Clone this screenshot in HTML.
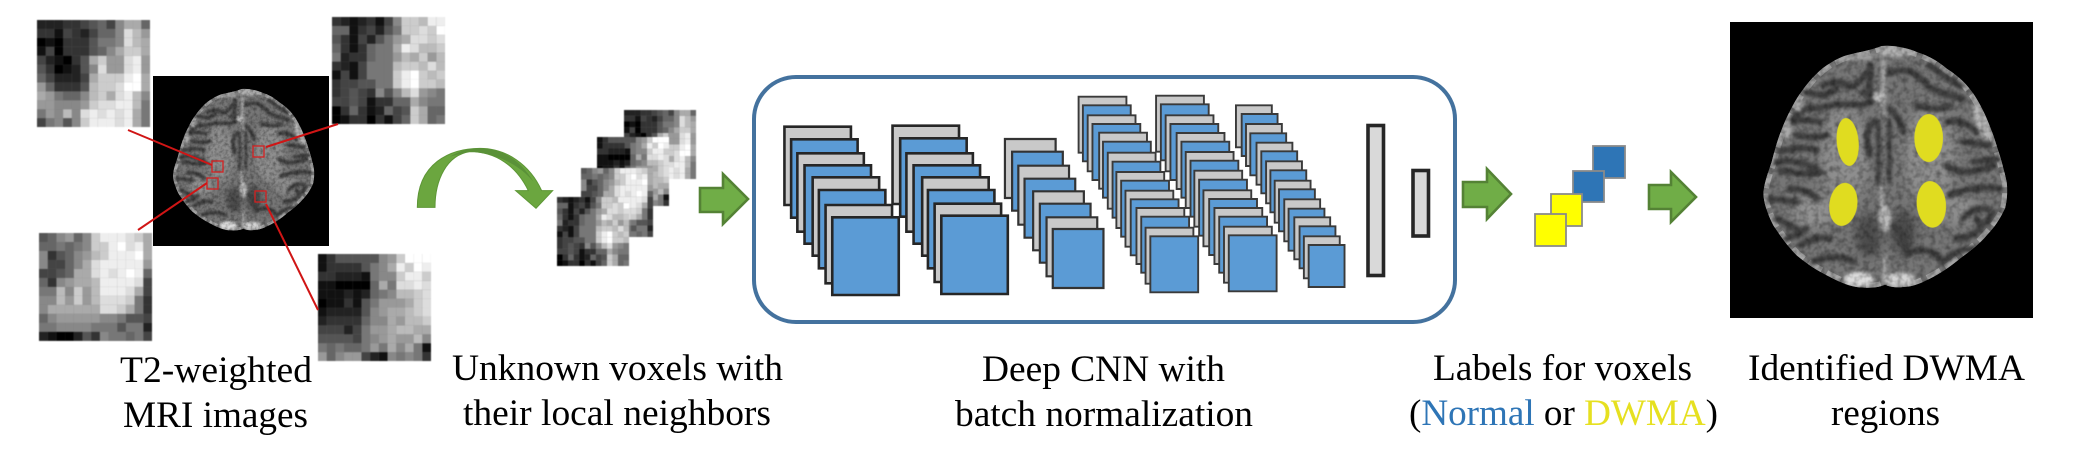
<!DOCTYPE html>
<html><head><meta charset="utf-8"><style>
html,body{margin:0;padding:0;background:#fff}
#w{position:relative;width:2100px;height:450px;overflow:hidden;background:#fff}
#w svg{position:absolute;left:0;top:0}
#pw{position:absolute;left:0;top:0;width:2100px;height:450px;filter:blur(.45px)}
.u{position:absolute;background:#777}
.c rect{vector-effect:non-scaling-stroke}
.p{position:absolute;left:0;top:0;width:1px;height:1px;transform-origin:0 0}
.A{box-shadow:1px 1px #222,2px 1px #222,3px 1px #222,4px 1px #333,5px 1px #333,6px 1px #444,7px 1px #555,8px 1px #666,9px 1px #444,10px 1px #888,11px 1px #aaa,12px 1px #aaa,13px 1px #666,
1px 2px #333,2px 2px #333,3px 2px #111,4px 2px #444,5px 2px #333,6px 2px #222,7px 2px #444,8px 2px #666,9px 2px #666,10px 2px #888,11px 2px #ddd,12px 2px #bbb,13px 2px #999,
1px 3px #000,2px 3px #111,3px 3px #000,4px 3px #333,5px 3px #333,6px 3px #333,7px 3px #555,8px 3px #777,9px 3px #777,10px 3px #888,11px 3px #ddd,12px 3px #bbb,13px 3px #aaa,
1px 4px #111,2px 4px #444,3px 4px #000,4px 4px #333,5px 4px #333,6px 4px #333,7px 4px #555,8px 4px #666,9px 4px #888,10px 4px #aaa,11px 4px #ccc,12px 4px #ccc,13px 4px #aaa,
1px 5px #444,2px 5px #222,3px 5px #111,4px 5px #000,5px 5px #333,6px 5px #555,7px 5px #aaa,8px 5px #ccc,9px 5px #999,10px 5px #999,11px 5px #ddd,12px 5px #eee,13px 5px #999,
1px 6px #555,2px 6px #333,3px 6px #000,4px 6px #111,5px 6px #222,6px 6px #555,7px 6px #888,8px 6px #ddd,9px 6px #999,10px 6px #999,11px 6px #ddd,12px 6px #eee,13px 6px #999,
1px 7px #666,2px 7px #444,3px 7px #222,4px 7px #222,5px 7px #222,6px 7px #444,7px 7px #aaa,8px 7px #ccc,9px 7px #ccc,10px 7px #ccc,11px 7px #eee,12px 7px #fff,13px 7px #aaa,
1px 8px #999,2px 8px #666,3px 8px #333,4px 8px #333,5px 8px #333,6px 8px #555,7px 8px #bbb,8px 8px #ccc,9px 8px #ccc,10px 8px #ddd,11px 8px #fff,12px 8px #fff,13px 8px #aaa,
1px 9px #aaa,2px 9px #999,3px 9px #777,4px 9px #666,5px 9px #666,6px 9px #888,7px 9px #bbb,8px 9px #ccc,9px 9px #aaa,10px 9px #ddd,11px 9px #eee,12px 9px #bbb,13px 9px #888,
1px 10px #999,2px 10px #999,3px 10px #888,4px 10px #888,5px 10px #888,6px 10px #999,7px 10px #ccc,8px 10px #ddd,9px 10px #ddd,10px 10px #eee,11px 10px #eee,12px 10px #bbb,13px 10px #777,
1px 11px #777,2px 11px #999,3px 11px #888,4px 11px #bbb,5px 11px #888,6px 11px #ddd,7px 11px #eee,8px 11px #ddd,9px 11px #eee,10px 11px #ddd,11px 11px #eee,12px 11px #aaa,13px 11px #777,
1px 12px #444,2px 12px #777,3px 12px #888,4px 12px #555,5px 12px #888,6px 12px #ccc,7px 12px #eee,8px 12px #eee,9px 12px #eee,10px 12px #ddd,11px 12px #eee,12px 12px #aaa,13px 12px #777}
.B{box-shadow:1px 1px #333,2px 1px #222,3px 1px #111,4px 1px #222,5px 1px #333,6px 1px #111,7px 1px #444,8px 1px #888,9px 1px #ccc,10px 1px #ccc,11px 1px #bbb,12px 1px #eee,13px 1px #eee,
1px 2px #666,2px 2px #666,3px 2px #111,4px 2px #333,5px 2px #444,6px 2px #222,7px 2px #555,8px 2px #777,9px 2px #ccc,10px 2px #ccc,11px 2px #ddd,12px 2px #ccc,13px 2px #fff,
1px 3px #555,2px 3px #333,3px 3px #111,4px 3px #444,5px 3px #222,6px 3px #555,7px 3px #777,8px 3px #999,9px 3px #aaa,10px 3px #ddd,11px 3px #ddd,12px 3px #ccc,13px 3px #ddd,
1px 4px #666,2px 4px #333,3px 4px #111,4px 4px #333,5px 4px #666,6px 4px #777,7px 4px #777,8px 4px #aaa,9px 4px #eee,10px 4px #ddd,11px 4px #bbb,12px 4px #bbb,13px 4px #ccc,
1px 5px #777,2px 5px #222,3px 5px #333,4px 5px #333,5px 5px #666,6px 5px #777,7px 5px #777,8px 5px #999,9px 5px #bbb,10px 5px #aaa,11px 5px #ccc,12px 5px #999,13px 5px #bbb,
1px 6px #333,2px 6px #222,3px 6px #111,4px 6px #444,5px 6px #777,6px 6px #777,7px 6px #777,8px 6px #bbb,9px 6px #ccc,10px 6px #ccc,11px 6px #bbb,12px 6px #ddd,13px 6px #bbb,
1px 7px #111,2px 7px #444,3px 7px #111,4px 7px #444,5px 7px #777,6px 7px #777,7px 7px #777,8px 7px #ccc,9px 7px #eee,10px 7px #fff,11px 7px #ccc,12px 7px #bbb,13px 7px #ccc,
1px 8px #333,2px 8px #444,3px 8px #444,4px 8px #555,5px 8px #555,6px 8px #777,7px 8px #777,8px 8px #ccc,9px 8px #eee,10px 8px #fff,11px 8px #ccc,12px 8px #ccc,13px 8px #bbb,
1px 9px #333,2px 9px #444,3px 9px #555,4px 9px #444,5px 9px #333,6px 9px #888,7px 9px #555,8px 9px #888,9px 9px #bbb,10px 9px #ddd,11px 9px #999,12px 9px #888,13px 9px #777,
1px 10px #444,2px 10px #444,3px 10px #555,4px 10px #444,5px 10px #111,6px 10px #333,7px 10px #333,8px 10px #666,9px 10px #666,10px 10px #aaa,11px 10px #888,12px 10px #777,13px 10px #777,
1px 11px #000,2px 11px #333,3px 11px #666,4px 11px #333,5px 11px #111,6px 11px #222,7px 11px #666,8px 11px #444,9px 11px #555,10px 11px #ccc,11px 11px #aaa,12px 11px #666,13px 11px #666,
1px 12px #000,2px 12px #111,3px 12px #333,4px 12px #333,5px 12px #000,6px 12px #333,7px 12px #111,8px 12px #444,9px 12px #666,10px 12px #ccc,11px 12px #aaa,12px 12px #666,13px 12px #777}
.C{box-shadow:1px 1px #555,2px 1px #666,3px 1px #888,4px 1px #999,5px 1px #666,6px 1px #888,7px 1px #ccc,8px 1px #eee,9px 1px #eee,10px 1px #eee,11px 1px #ddd,12px 1px #ccc,13px 1px #aaa,
1px 2px #666,2px 2px #666,3px 2px #777,4px 2px #666,5px 2px #777,6px 2px #888,7px 2px #ccc,8px 2px #ccc,9px 2px #eee,10px 2px #fff,11px 2px #ddd,12px 2px #eee,13px 2px #aaa,
1px 3px #888,2px 3px #333,3px 3px #555,4px 3px #666,5px 3px #888,6px 3px #999,7px 3px #bbb,8px 3px #ccc,9px 3px #eee,10px 3px #eee,11px 3px #eee,12px 3px #fff,13px 3px #aaa,
1px 4px #888,2px 4px #444,3px 4px #444,4px 4px #666,5px 4px #888,6px 4px #aaa,7px 4px #ddd,8px 4px #eee,9px 4px #eee,10px 4px #eee,11px 4px #eee,12px 4px #eee,13px 4px #999,
1px 5px #444,2px 5px #444,3px 5px #555,4px 5px #666,5px 5px #aaa,6px 5px #aaa,7px 5px #ddd,8px 5px #eee,9px 5px #ddd,10px 5px #eee,11px 5px #fff,12px 5px #eee,13px 5px #666,
1px 6px #666,2px 6px #333,3px 6px #888,4px 6px #999,5px 6px #aaa,6px 6px #aaa,7px 6px #bbb,8px 6px #eee,9px 6px #eee,10px 6px #eee,11px 6px #eee,12px 6px #ddd,13px 6px #444,
1px 7px #777,2px 7px #777,3px 7px #bbb,4px 7px #888,5px 7px #ccc,6px 7px #999,7px 7px #bbb,8px 7px #eee,9px 7px #eee,10px 7px #eee,11px 7px #ddd,12px 7px #aaa,13px 7px #444,
1px 8px #888,2px 8px #888,3px 8px #bbb,4px 8px #999,5px 8px #ccc,6px 8px #999,7px 8px #bbb,8px 8px #ddd,9px 8px #ddd,10px 8px #ddd,11px 8px #ccc,12px 8px #777,13px 8px #333,
1px 9px #888,2px 9px #aaa,3px 9px #aaa,4px 9px #aaa,5px 9px #aaa,6px 9px #aaa,7px 9px #aaa,8px 9px #ddd,9px 9px #ddd,10px 9px #ccc,11px 9px #aaa,12px 9px #777,13px 9px #333,
1px 10px #666,2px 10px #888,3px 10px #999,4px 10px #999,5px 10px #999,6px 10px #999,7px 10px #999,8px 10px #888,9px 10px #888,10px 10px #777,11px 10px #555,12px 10px #555,13px 10px #444,
1px 11px #777,2px 11px #777,3px 11px #888,4px 11px #888,5px 11px #888,6px 11px #888,7px 11px #777,8px 11px #777,9px 11px #777,10px 11px #555,11px 11px #777,12px 11px #777,13px 11px #222,
1px 12px #222,2px 12px #111,3px 12px #000,4px 12px #000,5px 12px #222,6px 12px #555,7px 12px #333,8px 12px #888,9px 12px #777,10px 12px #777,11px 12px #666,12px 12px #777,13px 12px #444}
.D{box-shadow:1px 1px #111,2px 1px #333,3px 1px #555,4px 1px #555,5px 1px #555,6px 1px #555,7px 1px #555,8px 1px #888,9px 1px #999,10px 1px #ccc,11px 1px #fff,12px 1px #fff,13px 1px #fff,
1px 2px #111,2px 2px #333,3px 2px #333,4px 2px #333,5px 2px #333,6px 2px #555,7px 2px #777,8px 2px #888,9px 2px #aaa,10px 2px #eee,11px 2px #ccc,12px 2px #fff,13px 2px #eee,
1px 3px #333,2px 3px #333,3px 3px #222,4px 3px #222,5px 3px #222,6px 3px #111,7px 3px #777,8px 3px #888,9px 3px #888,10px 3px #ccc,11px 3px #eee,12px 3px #eee,13px 3px #ccc,
1px 4px #111,2px 4px #111,3px 4px #000,4px 4px #000,5px 4px #000,6px 4px #000,7px 4px #666,8px 4px #aaa,9px 4px #777,10px 4px #ddd,11px 4px #ddd,12px 4px #eee,13px 4px #ddd,
1px 5px #111,2px 5px #111,3px 5px #111,4px 5px #222,5px 5px #111,6px 5px #222,7px 5px #666,8px 5px #777,9px 5px #888,10px 5px #bbb,11px 5px #bbb,12px 5px #ccc,13px 5px #ddd,
1px 6px #000,2px 6px #111,3px 6px #111,4px 6px #333,5px 6px #111,6px 6px #555,7px 6px #777,8px 6px #999,9px 6px #999,10px 6px #999,11px 6px #aaa,12px 6px #ccc,13px 6px #ddd,
1px 7px #111,2px 7px #222,3px 7px #222,4px 7px #222,5px 7px #222,6px 7px #555,7px 7px #888,8px 7px #999,9px 7px #aaa,10px 7px #aaa,11px 7px #bbb,12px 7px #ccc,13px 7px #ddd,
1px 8px #222,2px 8px #333,3px 8px #333,4px 8px #333,5px 8px #333,6px 8px #666,7px 8px #888,8px 8px #888,9px 8px #aaa,10px 8px #999,11px 8px #bbb,12px 8px #bbb,13px 8px #ccc,
1px 9px #444,2px 9px #444,3px 9px #444,4px 9px #222,5px 9px #444,6px 9px #777,7px 9px #999,8px 9px #999,9px 9px #aaa,10px 9px #bbb,11px 9px #bbb,12px 9px #aaa,13px 9px #aaa,
1px 10px #555,2px 10px #555,3px 10px #555,4px 10px #555,5px 10px #444,6px 10px #777,7px 10px #888,8px 10px #999,9px 10px #aaa,10px 10px #999,11px 10px #999,12px 10px #bbb,13px 10px #888,
1px 11px #777,2px 11px #666,3px 11px #777,4px 11px #666,5px 11px #666,6px 11px #777,7px 11px #999,8px 11px #777,9px 11px #aaa,10px 11px #888,11px 11px #aaa,12px 11px #777,13px 11px #111,
1px 12px #999,2px 12px #666,3px 12px #888,4px 12px #999,5px 12px #999,6px 12px #444,7px 12px #222,8px 12px #111,9px 12px #888,10px 12px #777,11px 12px #888,12px 12px #777,13px 12px #333}
</style></head><body><div id="w">
<div id="pw">
<div class="u" style="left:37px;top:20px;width:113px;height:107px"></div><div class="p A" style="transform:translate(37px,20px) scale(8.69,8.92) translate(-1px,-1px)"></div>
<div class="u" style="left:332px;top:17px;width:113px;height:107px"></div><div class="p B" style="transform:translate(332px,17px) scale(8.69,8.92) translate(-1px,-1px)"></div>
<div class="u" style="left:39px;top:233px;width:113px;height:108px"></div><div class="p C" style="transform:translate(39px,233px) scale(8.69,8.98) translate(-1px,-1px)"></div>
<div class="u" style="left:318px;top:254px;width:113px;height:107px"></div><div class="p D" style="transform:translate(318px,254px) scale(8.69,8.92) translate(-1px,-1px)"></div>
<div class="u" style="left:624px;top:110px;width:72px;height:69px"></div><div class="p A" style="transform:translate(624px,110px) scale(5.54,5.75) translate(-1px,-1px)"></div>
<div class="u" style="left:597px;top:137px;width:72px;height:69px"></div><div class="p D" style="transform:translate(597px,137px) scale(5.54,5.75) translate(-1px,-1px)"></div>
<div class="u" style="left:581px;top:168px;width:72px;height:69px"></div><div class="p C" style="transform:translate(581px,168px) scale(5.54,5.75) translate(-1px,-1px)"></div>
<div class="u" style="left:557px;top:197px;width:72px;height:69px"></div><div class="p B" style="transform:translate(557px,197px) scale(5.54,5.75) translate(-1px,-1px)"></div>
</div>
<svg width="2100" height="450" viewBox="0 0 2100 450" xmlns="http://www.w3.org/2000/svg">
<defs>
<filter id="bl" x="-10%" y="-10%" width="120%" height="120%"><feGaussianBlur stdDeviation="5"/></filter>
<filter id="bl2" x="-20%" y="-20%" width="140%" height="140%"><feGaussianBlur stdDeviation="14"/></filter>
<filter id="nz" x="0" y="0" width="100%" height="100%" color-interpolation-filters="sRGB"><feTurbulence type="fractalNoise" baseFrequency=".06" numOctaves="2" seed="4"/><feColorMatrix values="0 0 0 0 0  0 0 0 0 0  0 0 0 0 0  .7 0 0 0 -.27"/></filter>
<clipPath id="bc"><path id="bo" d="M455 72C490 68 530 78 560 90C600 102 630 122 650 140C690 165 712 190 730 215C760 260 775 300 790 340C810 400 822 440 830 480C834 510 830 540 825 560C805 600 790 620 770 640C745 670 715 690 690 710C660 735 630 755 600 770C570 785 545 795 520 795C500 797 480 796 465 788C450 796 420 800 380 795C350 790 325 778 300 765C260 745 230 725 200 700C170 670 150 640 130 610C112 575 100 540 100 510C105 475 115 450 125 420C135 380 145 345 160 310C175 275 190 245 210 215C235 180 260 150 290 130C320 110 345 100 370 95C400 88 430 82 455 72Z"/></clipPath>
<g id="brain">
<path d="M455 72C490 68 530 78 560 90C600 102 630 122 650 140C690 165 712 190 730 215C760 260 775 300 790 340C810 400 822 440 830 480C834 510 830 540 825 560C805 600 790 620 770 640C745 670 715 690 690 710C660 735 630 755 600 770C570 785 545 795 520 795C500 797 480 796 465 788C450 796 420 800 380 795C350 790 325 778 300 765C260 745 230 725 200 700C170 670 150 640 130 610C112 575 100 540 100 510C105 475 115 450 125 420C135 380 145 345 160 310C175 275 190 245 210 215C235 180 260 150 290 130C320 110 345 100 370 95C400 88 430 82 455 72Z" fill="#767676"/>
<g clip-path="url(#bc)">
<g filter="url(#bl2)"><ellipse cx="345" cy="400" rx="70" ry="150" fill="#8e8e8e"/><ellipse cx="600" cy="400" rx="75" ry="150" fill="#8e8e8e"/><ellipse cx="250" cy="570" rx="60" ry="50" fill="#929292"/><ellipse cx="680" cy="560" rx="60" ry="50" fill="#8c8c8c"/><ellipse cx="415" cy="640" rx="38" ry="65" fill="#4c4c4c"/><ellipse cx="520" cy="630" rx="38" ry="65" fill="#4c4c4c"/></g>
<use href="#bo" fill="none" stroke="#a6a6a6" stroke-width="30" stroke-dasharray="46 18"/>
<g filter="url(#bl)" fill="none" stroke="#404040" stroke-width="20" stroke-linecap="round">
<path d="M280 190Q330 170 350 190T420 140"/><path d="M400 210Q450 240 390 250Q330 240 260 260Q220 250 190 290"/><path d="M170 300Q230 290 270 300"/><path d="M150 390Q210 370 260 385"/><path d="M140 420Q220 410 270 450Q220 460 150 445"/><path d="M120 530L200 540"/><path d="M140 590L200 620"/><path d="M210 670Q260 640 300 650"/><path d="M250 720Q320 690 370 720"/>
<path d="M480 150Q550 130 590 190Q640 220 700 230"/><path d="M480 260Q510 290 520 330"/><path d="M650 300Q700 290 740 330"/><path d="M700 360L780 370"/><path d="M650 430Q700 470 790 430"/><path d="M660 520Q730 490 810 500"/><path d="M740 590Q760 630 790 570"/><path d="M540 690Q600 670 640 720Q680 680 730 680"/><path d="M490 610Q530 640 530 700"/><path d="M420 130L420 210"/>
<path d="M445 300L445 480M478 300L478 480" stroke-width="14"/>
<path d="M230 210Q280 230 320 200M600 130Q650 170 690 190M560 250Q620 270 660 250M200 340Q250 350 290 340M730 420L800 410M180 500Q230 500 260 530M700 590Q720 560 770 560M170 650Q200 640 230 620M680 650Q720 650 750 620M430 300Q400 330 420 400"/>
</g>
<g filter="url(#bl)">
<path d="M460 80L460 280M455 490L455 590M465 700L462 790" stroke="#a8a8a8" stroke-width="12" fill="none"/>
<ellipse cx="448" cy="225" rx="20" ry="15" fill="#bdbdbd"/><ellipse cx="465" cy="590" rx="18" ry="40" fill="#bbb"/>
<ellipse cx="385" cy="772" rx="45" ry="22" fill="#dcdcdc"/><ellipse cx="510" cy="772" rx="45" ry="20" fill="#d4d4d4"/>
<ellipse cx="500" cy="90" rx="55" ry="14" fill="#b4b4b4"/><ellipse cx="380" cy="105" rx="70" ry="9" fill="#a0a0a0"/><ellipse cx="755" cy="300" rx="18" ry="55" fill="#b8b8b8" transform="rotate(-20 755 300)"/><ellipse cx="205" cy="245" rx="14" ry="24" fill="#aaa"/><ellipse cx="170" cy="320" rx="14" ry="30" fill="#aaa"/>
</g>
<rect x="90" y="60" width="750" height="750" filter="url(#nz)"/>
</g>
</g>
</defs>

<rect x="153" y="76" width="176" height="170" fill="#000"/>
<use href="#brain" transform="translate(153.7 75) scale(.193 .195)"/>
<g fill="none" stroke="#d42020" stroke-width="1.3"><rect x="212" y="161" width="11" height="11"/><rect x="253" y="146" width="11" height="11"/><rect x="207" y="178" width="11" height="11"/><rect x="255" y="191" width="11" height="11"/></g>
<g stroke="#d01515" stroke-width="2"><line x1="128" y1="130" x2="212" y2="165"/><line x1="338" y1="124" x2="266" y2="147"/><line x1="138" y1="230" x2="207" y2="183"/><line x1="266" y1="204" x2="318" y2="310"/></g>

<g transform="translate(400 50) scale(.33333)">
<path d="M52 472C52 340 150 295 240 295C320 295 390 345 425 422L458 422L408 475L347 422L385 422C350 350 290 305 210 305C140 315 105 390 105 472Z" fill="#6ba63f" stroke="#5d9636" stroke-width="3"/>
<path d="M150 320C190 295 220 295 240 295C310 295 365 335 400 395C360 345 290 310 210 305Z" fill="#5a9138"/>
</g>

<g fill="#70ad47" stroke="#548235" stroke-width="2.6" stroke-linejoin="miter">
<polygon points="700,188 723,188 723,174 748,199 723,224 723,212 700,212"/>
<polygon points="1463,182 1487,182 1487,169 1511,194 1487,219 1487,207 1463,207"/>
<polygon points="1649,185 1671,185 1671,172 1696,197 1671,222 1671,209 1649,209"/>
</g>

<rect x="754" y="77" width="701" height="245" rx="42" ry="42" fill="none" stroke="#44729e" stroke-width="4"/>

<g class="c" transform="translate(750 50) scale(.4783 .33333)" stroke="#262626">
<g stroke-width="2.6">
<rect x="72" y="230" width="139" height="235" fill="#c9c9c9"/><rect x="86" y="268" width="139" height="235" fill="#5b9bd5"/><rect x="99" y="310" width="139" height="235" fill="#c9c9c9"/><rect x="114" y="346" width="139" height="235" fill="#5b9bd5"/><rect x="131" y="382" width="139" height="235" fill="#c9c9c9"/><rect x="144" y="420" width="139" height="235" fill="#5b9bd5"/><rect x="158" y="465" width="139" height="235" fill="#c9c9c9"/><rect x="172" y="502" width="139" height="233" fill="#5b9bd5"/>
<rect x="298" y="227" width="139" height="235" fill="#c9c9c9"/><rect x="314" y="265" width="139" height="235" fill="#5b9bd5"/><rect x="327" y="310" width="139" height="235" fill="#c9c9c9"/><rect x="342" y="346" width="139" height="235" fill="#5b9bd5"/><rect x="360" y="382" width="139" height="235" fill="#c9c9c9"/><rect x="372" y="420" width="139" height="235" fill="#5b9bd5"/><rect x="386" y="461" width="139" height="235" fill="#c9c9c9"/><rect x="400" y="497" width="139" height="235" fill="#5b9bd5"/>
</g>
<g stroke-width="2.2" stroke="#333">
<rect x="533" y="267" width="106" height="177" fill="#c9c9c9"/><rect x="548" y="305" width="106" height="177" fill="#5b9bd5"/><rect x="561" y="347" width="106" height="177" fill="#c9c9c9"/><rect x="574" y="386" width="106" height="177" fill="#5b9bd5"/><rect x="592" y="424" width="106" height="177" fill="#c9c9c9"/><rect x="606" y="461" width="106" height="177" fill="#5b9bd5"/><rect x="620" y="502" width="106" height="177" fill="#c9c9c9"/><rect x="633" y="537" width="106" height="177" fill="#5b9bd5"/>
</g>
<g stroke-width="1.9" stroke="#3a3a3a">
<rect x="687" y="140" width="100" height="168" fill="#c9c9c9"/><rect x="696" y="166" width="100" height="168" fill="#5b9bd5"/><rect x="706" y="196" width="100" height="168" fill="#c9c9c9"/><rect x="716" y="222" width="100" height="168" fill="#5b9bd5"/><rect x="730" y="248" width="100" height="168" fill="#c9c9c9"/><rect x="738" y="275" width="100" height="168" fill="#5b9bd5"/><rect x="748" y="308" width="100" height="168" fill="#c9c9c9"/><rect x="758" y="335" width="100" height="168" fill="#5b9bd5"/><rect x="766" y="366" width="100" height="168" fill="#c9c9c9"/><rect x="776" y="392" width="100" height="168" fill="#5b9bd5"/><rect x="785" y="422" width="100" height="168" fill="#c9c9c9"/><rect x="796" y="448" width="100" height="168" fill="#5b9bd5"/><rect x="808" y="474" width="100" height="168" fill="#c9c9c9"/><rect x="818" y="500" width="100" height="168" fill="#5b9bd5"/><rect x="827" y="533" width="100" height="168" fill="#c9c9c9"/><rect x="837" y="559" width="100" height="168" fill="#5b9bd5"/>
<rect x="849" y="137" width="100" height="168" fill="#c9c9c9"/><rect x="859" y="163" width="100" height="168" fill="#5b9bd5"/><rect x="869" y="196" width="100" height="168" fill="#c9c9c9"/><rect x="879" y="222" width="100" height="168" fill="#5b9bd5"/><rect x="892" y="249" width="100" height="168" fill="#c9c9c9"/><rect x="902" y="275" width="100" height="168" fill="#5b9bd5"/><rect x="911" y="306" width="100" height="168" fill="#c9c9c9"/><rect x="921" y="332" width="100" height="168" fill="#5b9bd5"/><rect x="929" y="362" width="100" height="168" fill="#c9c9c9"/><rect x="939" y="389" width="100" height="168" fill="#5b9bd5"/><rect x="948" y="421" width="100" height="168" fill="#c9c9c9"/><rect x="960" y="447" width="100" height="168" fill="#5b9bd5"/><rect x="971" y="474" width="100" height="168" fill="#c9c9c9"/><rect x="981" y="500" width="100" height="168" fill="#5b9bd5"/><rect x="991" y="530" width="100" height="168" fill="#c9c9c9"/><rect x="1001" y="556" width="100" height="168" fill="#5b9bd5"/>
<rect x="1016" y="166" width="75" height="126" fill="#c9c9c9"/><rect x="1028" y="192" width="75" height="126" fill="#5b9bd5"/><rect x="1037" y="222" width="75" height="126" fill="#c9c9c9"/><rect x="1046" y="250" width="75" height="126" fill="#5b9bd5"/><rect x="1059" y="278" width="75" height="126" fill="#c9c9c9"/><rect x="1069" y="304" width="75" height="126" fill="#5b9bd5"/><rect x="1079" y="334" width="75" height="126" fill="#c9c9c9"/><rect x="1088" y="361" width="75" height="126" fill="#5b9bd5"/><rect x="1097" y="392" width="75" height="126" fill="#c9c9c9"/><rect x="1106" y="418" width="75" height="126" fill="#5b9bd5"/><rect x="1117" y="448" width="75" height="126" fill="#c9c9c9"/><rect x="1126" y="476" width="75" height="126" fill="#5b9bd5"/><rect x="1138" y="502" width="75" height="126" fill="#c9c9c9"/><rect x="1149" y="529" width="75" height="126" fill="#5b9bd5"/><rect x="1158" y="559" width="75" height="126" fill="#c9c9c9"/><rect x="1168" y="585" width="75" height="126" fill="#5b9bd5"/>
</g>
</g>
<g fill="#d9d9d9" stroke="#262626" stroke-width="3.6"><rect x="1368" y="125.5" width="15.5" height="150"/><rect x="1413" y="170.5" width="15.5" height="65.5"/></g>

<g stroke="#8a8a8a" stroke-width="1.8">
<rect x="1593" y="146" width="32" height="32" fill="#2e75b6"/><rect x="1573" y="171" width="31" height="31" fill="#2e75b6"/>
<rect x="1551" y="194" width="31" height="32" fill="#ffff00"/><rect x="1535" y="214" width="31" height="32" fill="#ffff00"/>
</g>

<rect x="1730" y="22" width="303" height="296" fill="#000"/>
<g transform="translate(1730 22) scale(.33333)">
<use href="#brain"/>
<g fill="#e0dc20"><ellipse cx="353" cy="360" rx="33" ry="72" transform="rotate(-5 353 360)"/><ellipse cx="596" cy="348" rx="43" ry="72"/><ellipse cx="340" cy="547" rx="42" ry="65" transform="rotate(8 340 547)"/><ellipse cx="604" cy="547" rx="44" ry="70" transform="rotate(-5 604 547)"/></g>
</g>

<g font-family="'Liberation Serif',serif" font-size="37" fill="#000">
<text x="120" y="382" textLength="192" lengthAdjust="spacingAndGlyphs">T2-weighted</text>
<text x="123" y="427" textLength="185" lengthAdjust="spacingAndGlyphs">MRI images</text>
<text x="452" y="380" textLength="331" lengthAdjust="spacingAndGlyphs">Unknown voxels with</text>
<text x="463" y="425" textLength="308" lengthAdjust="spacingAndGlyphs">their local neighbors</text>
<text x="982" y="381" textLength="243" lengthAdjust="spacingAndGlyphs">Deep CNN with</text>
<text x="955" y="426" textLength="298" lengthAdjust="spacingAndGlyphs">batch normalization</text>
<text x="1433" y="380" textLength="259" lengthAdjust="spacingAndGlyphs">Labels for voxels</text>
<text x="1409" y="425" textLength="309" lengthAdjust="spacingAndGlyphs">(<tspan fill="#2e75b6">Normal</tspan> or <tspan fill="#e6e020">DWMA</tspan>)</text>
<text x="1748" y="380" textLength="277" lengthAdjust="spacingAndGlyphs">Identified DWMA</text>
<text x="1831" y="425" textLength="109" lengthAdjust="spacingAndGlyphs">regions</text>
</g>
</svg>
</div></body></html>
